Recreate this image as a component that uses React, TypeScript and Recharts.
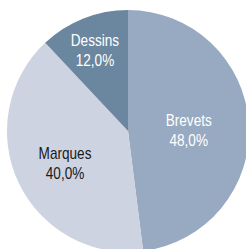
import React from "react";
import { PieChart, Pie, Cell } from "recharts";

const categories = ["Brevets", "Marques", "Dessins"];
const shares = [48.0, 40.0, 12.0];
const colors = ["#98aac1", "#cdd3e0", "#6a879f"];
const textColors = ["#ffffff", "#1a1a1a", "#ffffff"];

const data = categories.map((name, i) => ({ name, value: shares[i] }));

const RAD = Math.PI / 180;

const renderLabel = (props: any) => {
  const { cx, cy, midAngle, outerRadius, percent, index, name } = props;
  const half = Math.PI * percent; // half-angle in radians
  const centroid = (2 * outerRadius * Math.sin(half)) / (3 * half);
  const r = centroid * 1.14;
  const x = cx + r * Math.cos(-midAngle * RAD);
  const y = cy + r * Math.sin(-midAngle * RAD) + 3;
  const pct = (percent * 100).toFixed(1).replace(".", ",") + "%";
  return (
    <text
      x={0}
      y={0}
      transform={`translate(${x},${y}) scale(0.85,1)`}
      textAnchor="middle"
      fill={textColors[index]}
      style={{ fontFamily: "'Liberation Sans', Arial, sans-serif", fontSize: 16 }}
    >
      <tspan x={0} y={-4.5}>{name}</tspan>
      <tspan x={0} y={15.5}>{pct}</tspan>
    </text>
  );
};

export default function App() {
  return (
    <div style={{ position: "absolute", left: 0, top: 0, width: 246, height: 249, background: "#fff" }}>
      <PieChart width={246} height={249} margin={{ top: 0, right: 0, bottom: 0, left: 0 }}>
        <Pie
          data={data}
          dataKey="value"
          nameKey="name"
          cx={128}
          cy={131}
          outerRadius={121}
          startAngle={90}
          endAngle={-270}
          stroke="none"
          label={renderLabel}
          labelLine={false}
          isAnimationActive={false}
        >
          {data.map((d, i) => (
            <Cell key={d.name} fill={colors[i]} />
          ))}
        </Pie>
      </PieChart>
    </div>
  );
}
